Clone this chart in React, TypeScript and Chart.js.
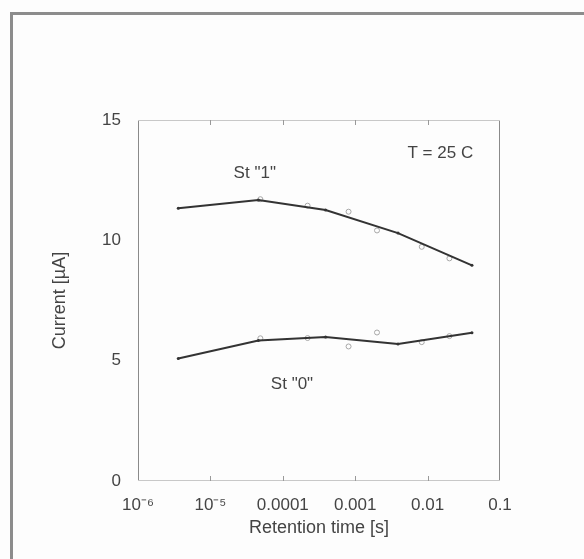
import React, { useEffect, useRef } from "react";
import { Chart, registerables } from "chart.js";

Chart.register(...registerables);

// ---- data ----
const xTickValues = [1e-6, 1e-5, 1e-4, 1e-3, 1e-2, 1e-1];
const xTickLabels = ["10⁻⁶", "10⁻⁵", "0.0001", "0.001", "0.01", "0.1"];
const yTickValues = [0, 5, 10, 15];

const fitTimes = [3.6e-6, 4.6e-5, 3.9e-4, 3.9e-3, 4.1e-2];
const fitState1 = [11.33, 11.68, 11.26, 10.3, 8.96];
const fitState0 = [5.09, 5.84, 5.98, 5.69, 6.16];

const measTimes = [4.9e-5, 2.2e-4, 8.1e-4, 2.0e-3, 8.3e-3, 2.0e-2];
const measState1 = [11.71, 11.44, 11.19, 10.41, 9.73, 9.25];
const measState0 = [5.93, 5.94, 5.59, 6.17, 5.77, 6.02];

const annotations = [
  { text: "T = 25 C", x: 0.015, y: 13.6 },
  { text: 'St "1"', x: 4.1e-5, y: 12.8 },
  { text: 'St "0"', x: 1.34e-4, y: 4.0 },
];

const FONT = "'Liberation Sans', Arial, sans-serif";

const pairs = (xs: number[], ys: number[]) => xs.map((x, i) => ({ x, y: ys[i] }));

const framePlugin = {
  id: "framePlugin",
  beforeDraw(chart: any) {
    const { ctx } = chart;
    ctx.save();
    ctx.fillStyle = "#fdfdfd";
    ctx.fillRect(0, 0, chart.width, chart.height);
    // outer scanned border
    ctx.strokeStyle = "#8c8c8c";
    ctx.lineWidth = 3;
    ctx.beginPath();
    ctx.moveTo(11.5, chart.height);
    ctx.lineTo(11.5, 13.5);
    ctx.lineTo(chart.width, 13.5);
    ctx.stroke();
    ctx.restore();
  },
  beforeDatasetsDraw(chart: any) {
    const { ctx, chartArea: a, scales } = chart;
    ctx.save();
    ctx.lineWidth = 1;
    ctx.strokeStyle = "#8a8a8a";
    ctx.beginPath();
    ctx.moveTo(a.left + 0.5, a.top);
    ctx.lineTo(a.left + 0.5, a.bottom);
    ctx.moveTo(a.right - 0.5, a.top);
    ctx.lineTo(a.right - 0.5, a.bottom);
    ctx.stroke();
    ctx.strokeStyle = "#c8c8c8";
    ctx.beginPath();
    ctx.moveTo(a.left, a.top + 0.5);
    ctx.lineTo(a.right, a.top + 0.5);
    ctx.moveTo(a.left, a.bottom - 0.5);
    ctx.lineTo(a.right, a.bottom - 0.5);
    ctx.stroke();
    ctx.strokeStyle = "#999";
    ctx.beginPath();
    xTickValues.slice(1, -1).forEach((v) => {
      const px = Math.round(scales.x.getPixelForValue(v)) + 0.5;
      ctx.moveTo(px, a.top);
      ctx.lineTo(px, a.top + 5);
      ctx.moveTo(px, a.bottom);
      ctx.lineTo(px, a.bottom - 5);
    });
    ctx.stroke();
    ctx.restore();
  },
  afterDraw(chart: any) {
    const { ctx, scales } = chart;
    ctx.save();
    ctx.fillStyle = "#444";
    ctx.font = `17px ${FONT}`;
    ctx.textAlign = "center";
    ctx.textBaseline = "middle";
    annotations.forEach((t) => {
      ctx.fillText(t.text, scales.x.getPixelForValue(t.x), scales.y.getPixelForValue(t.y));
    });
    ctx.restore();
  },
};

export default function App() {
  const ref = useRef<HTMLCanvasElement | null>(null);
  useEffect(() => {
    if (!ref.current) return;
    const chart = new Chart(ref.current, {
      type: "line",
      data: {
        datasets: [
          {
            label: 'St "1" fit',
            data: pairs(fitTimes, fitState1),
            borderColor: "#333",
            backgroundColor: "#333",
            borderWidth: 2,
            pointRadius: 1.5,
            pointBorderWidth: 0,
          },
          {
            label: 'St "0" fit',
            data: pairs(fitTimes, fitState0),
            borderColor: "#333",
            backgroundColor: "#333",
            borderWidth: 2,
            pointRadius: 1.5,
            pointBorderWidth: 0,
          },
          {
            label: 'St "1"',
            data: pairs(measTimes, measState1),
            showLine: false,
            borderColor: "#a8a8a8",
            backgroundColor: "rgba(0,0,0,0)",
            pointRadius: 2.5,
            pointBorderWidth: 1,
          },
          {
            label: 'St "0"',
            data: pairs(measTimes, measState0),
            showLine: false,
            borderColor: "#a8a8a8",
            backgroundColor: "rgba(0,0,0,0)",
            pointRadius: 2.5,
            pointBorderWidth: 1,
          },
        ],
      },
      options: {
        animation: false,
        responsive: false,
        events: [],
        layout: { padding: { left: 0, top: 120, right: 84, bottom: 0 } },
        plugins: { legend: { display: false }, tooltip: { enabled: false } },
        scales: {
          x: {
            type: "logarithmic",
            min: 1e-6,
            max: 0.1,
            grid: { display: false },
            border: { display: false },
            afterBuildTicks: (scale: any) => {
              scale.ticks = xTickValues.map((v) => ({ value: v }));
            },
            afterFit: (scale: any) => {
              scale.height = 78;
            },
            ticks: {
              autoSkip: false,
              maxRotation: 0,
              padding: 6,
              color: "#444",
              font: { family: FONT, size: 17 },
              callback: (v: any) => {
                const i = xTickValues.findIndex((t) => Math.abs(Math.log10(t) - Math.log10(Number(v))) < 1e-6);
                return i >= 0 ? xTickLabels[i] : "";
              },
            },
            title: {
              display: true,
              text: "Retention time [s]",
              color: "#444",
              font: { family: FONT, size: 18 },
              padding: { top: 0, bottom: 20 },
            },
          },
          y: {
            min: 0,
            max: 15,
            grid: { display: false },
            border: { display: false },
            afterBuildTicks: (scale: any) => {
              scale.ticks = yTickValues.map((v) => ({ value: v }));
            },
            afterFit: (scale: any) => {
              scale.width = 138;
            },
            ticks: {
              padding: 9,
              color: "#444",
              font: { family: FONT, size: 17 },
            },
            title: {
              display: true,
              text: "Current [µA]",
              color: "#444",
              font: { family: FONT, size: 18 },
              padding: { top: 49, bottom: 0 },
            },
          },
        },
      },
      plugins: [framePlugin],
    } as any);
    return () => chart.destroy();
  }, []);
  return (
    <div style={{ position: "absolute", left: 0, top: 0, width: 584, height: 559 }}>
      <canvas ref={ref} width={584} height={559} />
    </div>
  );
}
